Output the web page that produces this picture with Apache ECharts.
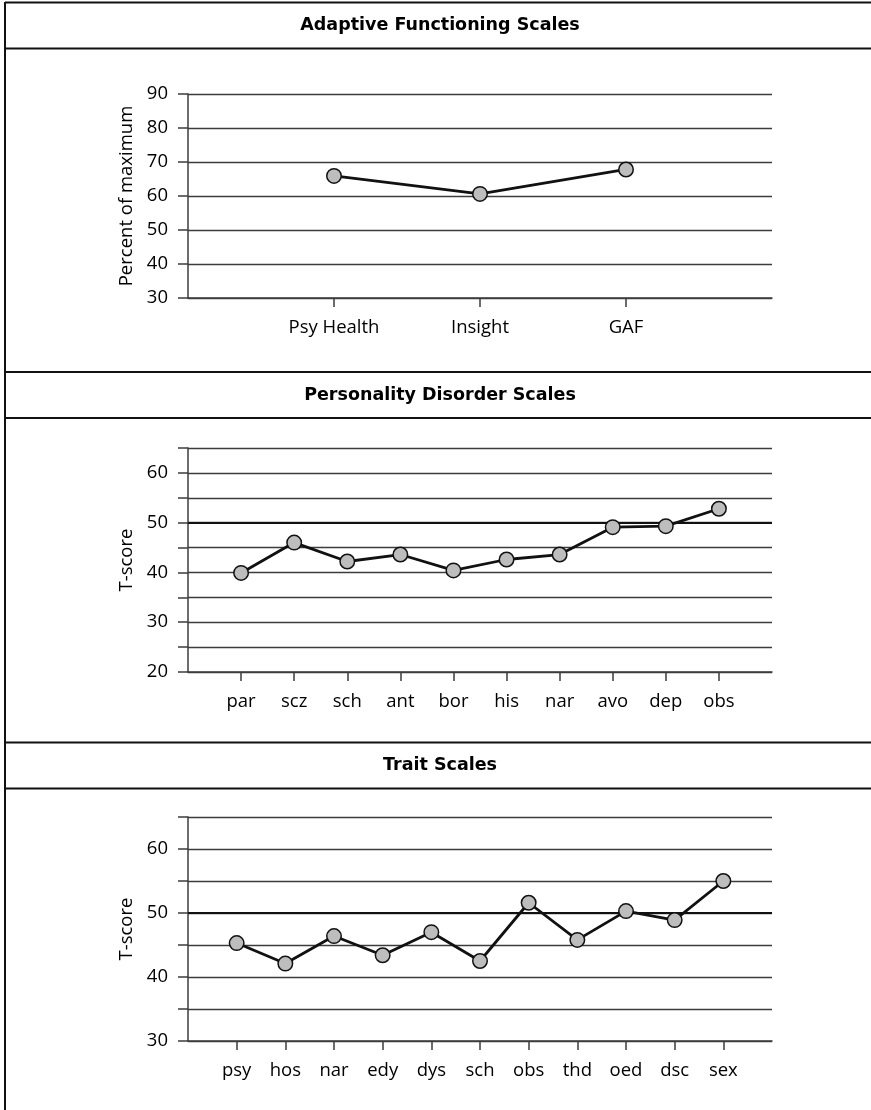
<!DOCTYPE html>
<html>
<head>
<meta charset="utf-8">
<script src="https://cdn.jsdelivr.net/npm/echarts@6/dist/echarts.min.js"></script>
<style>
  html, body { margin: 0; padding: 0; background: #fff; }
  #chart { width: 871px; height: 1110px; }
</style>
</head>
<body>
<div id="chart"></div>
<script>
// Panel titles
const panelTitles = ['Adaptive Functioning Scales', 'Personality Disorder Scales', 'Trait Scales'];

// Adaptive functioning (percent of maximum)
const adaptiveCats = ['Psy Health', 'Insight', 'GAF'];
const adaptiveVals = [65.9, 60.6, 67.8];

// Personality disorder scales (T-scores)
const pdCats = ['par', 'scz', 'sch', 'ant', 'bor', 'his', 'nar', 'avo', 'dep', 'obs'];
const pdVals = [39.9, 46.0, 42.2, 43.6, 40.4, 42.6, 43.6, 49.1, 49.3, 52.8];

// Trait scales (T-scores)
const traitCats = ['psy', 'hos', 'nar', 'edy', 'dys', 'sch', 'obs', 'thd', 'oed', 'dsc', 'sex'];
const traitVals = [45.3, 42.1, 46.4, 43.4, 47.0, 42.5, 51.6, 45.8, 50.3, 48.9, 55.0];

// Y-axis ranges and names
const yRanges = [
  { min: 30, max: 90, interval: 10, name: 'Percent of maximum' },
  { min: 20, max: 65, interval: 5, name: 'T-score' },
  { min: 30, max: 65, interval: 5, name: 'T-score' }
];

const FONT = '"Open Sans"';
const TITLE_FONT = '"DejaVu Sans"';
const INK = '#000';
const GRID = '#3c3c3c';
const LABEL_SIZE = 18.5;

const panels = [
  { cats: adaptiveCats, vals: adaptiveVals, top: 94, height: 204, ref: null },
  { cats: pdCats, vals: pdVals, top: 448, height: 224, ref: 50 },
  { cats: traitCats, vals: traitVals, top: 817, height: 224, ref: 50 }
];

// header band lines (y positions)
const bands = [[2.5, 48.5], [372, 418], [742.5, 788.5]];

const grid = [], xAxis = [], yAxis = [], series = [], graphic = [];

panels.forEach((p, i) => {
  grid.push({ left: 188, right: 99, top: p.top, height: p.height });
  // an empty slot at each end keeps the points off the frame edges
  const padded = [''].concat(p.cats, ['']);
  xAxis.push({
    type: 'category', gridIndex: i, data: padded, boundaryGap: false,
    axisLine: { show: true, lineStyle: { color: GRID, width: 1.5 } },
    axisTick: { show: true, length: 9, interval: (idx, v) => v !== '', lineStyle: { color: GRID, width: 1.5 } },
    axisLabel: { interval: (idx, v) => v !== '', margin: 20, color: INK, fontFamily: FONT, fontSize: LABEL_SIZE },
    splitLine: { show: false }
  });
  const r = yRanges[i];
  yAxis.push({
    type: 'value', gridIndex: i, min: r.min, max: r.max, interval: r.interval,
    name: r.name, nameLocation: 'middle', nameGap: 52,
    nameTextStyle: { color: INK, fontFamily: FONT, fontSize: LABEL_SIZE },
    axisLine: { show: true, lineStyle: { color: GRID, width: 1.5 } },
    axisTick: { show: true, length: 10, lineStyle: { color: GRID, width: 1.5 } },
    axisLabel: {
      margin: 20, color: INK, fontFamily: FONT, fontSize: LABEL_SIZE,
      formatter: v => (v % 10 === 0 ? String(v) : '')
    },
    splitLine: { show: true, lineStyle: { color: GRID, width: 1.4 } }
  });
  const s = {
    type: 'line', xAxisIndex: i, yAxisIndex: i,
    data: p.cats.map((c, k) => [c, p.vals[k]]),
    symbol: 'circle', symbolSize: 14.5,
    lineStyle: { color: '#111', width: 2.8 },
    itemStyle: { color: '#bdbdbd', borderColor: '#111', borderWidth: 1.5 },
    z: 5, animation: false
  };
  if (p.ref !== null) {
    s.markLine = {
      silent: true, symbol: 'none', label: { show: false },
      lineStyle: { color: '#111', width: 2.2, type: 'solid' },
      data: [{ yAxis: p.ref }], z: 3
    };
  }
  series.push(s);

  // header band
  const b = bands[i];
  graphic.push({ type: 'line', shape: { x1: 5, y1: b[0], x2: 871, y2: b[0] }, style: { stroke: '#111', lineWidth: 2 } });
  graphic.push({ type: 'line', shape: { x1: 5, y1: b[1], x2: 871, y2: b[1] }, style: { stroke: '#111', lineWidth: 2 } });
  graphic.push({
    type: 'text', x: 440, y: (b[0] + b[1]) / 2,
    style: { text: panelTitles[i], textAlign: 'center', textVerticalAlign: 'middle',
             font: 'bold 17.5px ' + TITLE_FONT, fill: INK }
  });
});

// left frame edge
graphic.push({ type: 'line', shape: { x1: 5, y1: 2, x2: 5, y2: 1110 }, style: { stroke: '#111', lineWidth: 2 } });

const chart = echarts.init(document.getElementById('chart'), null, { renderer: 'canvas' });
chart.setOption({
  animation: false,
  backgroundColor: '#fff',
  grid, xAxis, yAxis, series, graphic
});
</script>
</body>
</html>
